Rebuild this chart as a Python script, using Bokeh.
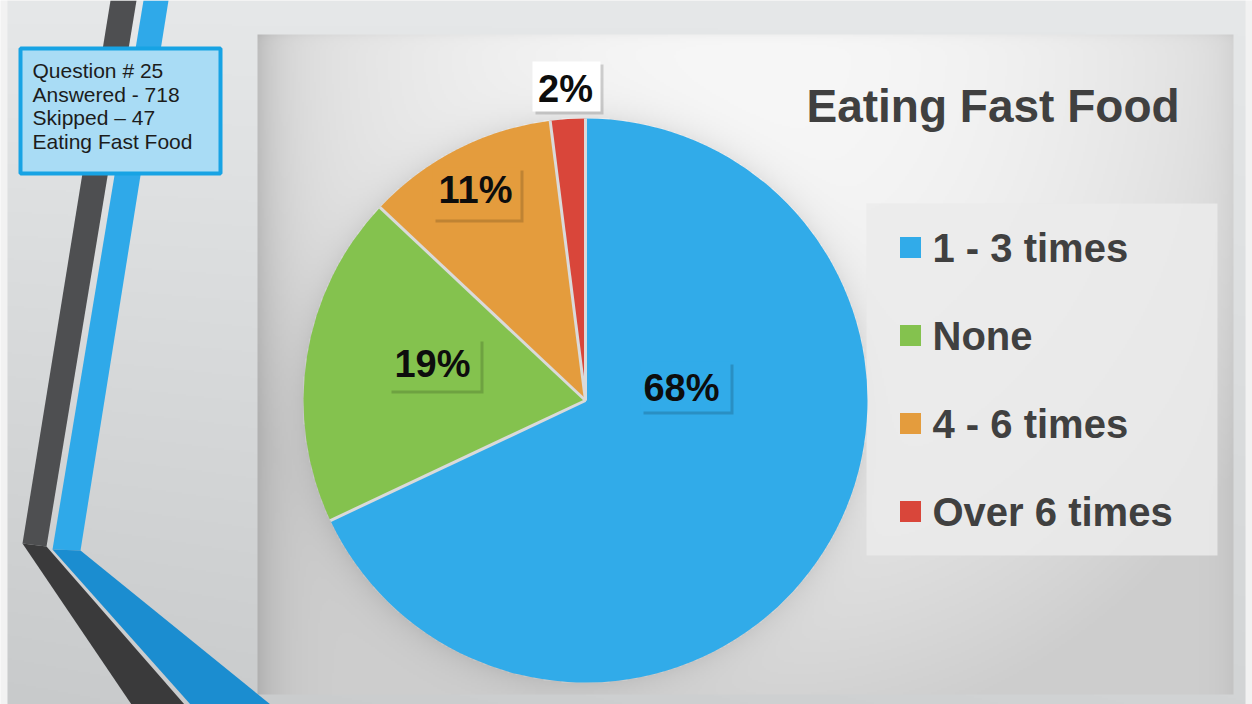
import numpy as np
from bokeh.plotting import figure
from bokeh.models import Range1d
from bokeh.embed import file_html
from bokeh.resources import INLINE
from bokeh.core.properties import value

# ---------------- data ----------------
categories = ["1 - 3 times", "None", "4 - 6 times", "Over 6  times"]
percents = [68, 19, 11, 2]
colors = ["#31abe9", "#84c24e", "#e49c3d", "#d9463a"]
label_texts = [f"{v}%" for v in percents]
title_text = "Eating Fast Food"
info_lines = ["Question # 25", "Answered - 718", "Skipped \u2013 47", "Eating Fast Food"]

# ---------------- layout (image pixel coords, y down) ----------------
W, H = 1252, 704


def Y(v):
    return H - np.asarray(v, dtype=float)


SLIDE = (7, 1245, 0, 704)                    # slide l, r, t, b
PCX, PCY, PR = 585.0, 400.0, 282.0           # pie centre / radius
CHART = (258, 1233, 35, 693)                 # chart area l, r, t, b
LEG_BOX = (866, 1217, 203, 555)
LEG_Y0, LEG_DY = 247, 88
LEG_SQ_X, LEG_SQ = 910, 21
LEG_TX = 932
# data label boxes: centre x, centre y, w, h ; text centre
LBL_BOX = [(685, 386, 90, 50), (434, 364, 92, 52), (476, 193, 88, 52), (566, 86, 68, 50)]
LBL_X = [681, 432, 475, 565]
LBL_Y = [387, 363, 189, 88]
LBL_FILL = [colors[0], colors[1], colors[2], "#ffffff"]

p = figure(width=W, height=H,
           x_range=Range1d(0, W), y_range=Range1d(0, H),
           output_backend="svg", toolbar_location=None, min_border=0)
p.axis.visible = False
p.grid.visible = False
p.outline_line_color = None
p.background_fill_color = "#f2f2f2"
p.border_fill_color = "#f2f2f2"

# ---------------- background gradient image ----------------
sl, sr, st, sb = SLIDE
S = 2
nx, ny = (sr - sl) // S, (sb - st) // S
xs = sl + (np.arange(nx) + 0.5) * S
iys = sb - (np.arange(ny) + 0.5) * S
X, Yi = np.meshgrid(xs, iys)
t = Yi / 704.0
s = X / 1252.0
c = 231 - 20 * t - 10 * (1 - s) * t
Rc, Gc, Bc = c - 1, c + 1, c + 2
l, r, tp, bt = CHART
inside = (X >= l) & (X <= r) & (Yi >= tp) & (Yi <= bt)
r2 = ((X - 760) / 600.0) ** 2 + ((Yi - 40) / 700.0) ** 2
cc = 247 - 41 * np.minimum(r2, 1)
cc -= 28 * np.exp(-np.clip(X - l, 0, None) / 22.0)
cc -= 10 * np.exp(-np.clip(r - X, 0, None) / 15.0)
cc -= 6 * np.exp(-np.clip(Yi - tp, 0, None) / 4.0)
dd = np.hypot(X - PCX, Yi - PCY) - PR
cc -= np.where(dd > 0, 18 * np.exp(-np.clip(dd, 0, None) / 14.0), 0)
Rc = np.where(inside, cc, Rc)
Gc = np.where(inside, cc, Gc)
Bc = np.where(inside, cc, Bc)
img = np.empty((ny, nx), dtype=np.uint32)
view = img.view(dtype=np.uint8).reshape((ny, nx, 4))
view[..., 0] = np.clip(Rc, 0, 255).astype(np.uint8)
view[..., 1] = np.clip(Gc, 0, 255).astype(np.uint8)
view[..., 2] = np.clip(Bc, 0, 255).astype(np.uint8)
view[..., 3] = 255
p.image_rgba(image=[img], x=sl, y=H - sb, dw=sr - sl, dh=sb - st)

# ---------------- decorative stripes ----------------
stripes_x = [
    [110, 136, 46, 22],
    [143, 168, 80, 52],
    [22, 46, 184, 131],
    [52, 80, 270, 190],
]
stripes_y = [
    [0, 0, 546, 543],
    [0, 0, 550, 549],
    [543, 546, 704, 704],
    [549, 550, 704, 704],
]
p.patches(xs=stripes_x, ys=[list(Y(v)) for v in stripes_y],
          fill_color=["#4e4f51", "#2fa9e9", "#3a3a3b", "#1b8dd0"], line_color=None)

# ---------------- info box ----------------
p.quad(left=20, right=220, top=Y(48), bottom=Y(173),
       fill_color="#a9dcf5", line_color="#17a3e4", line_width=4)
p.text(x=[32] * len(info_lines), y=Y([70 + 23.5 * i for i in range(len(info_lines))]),
       text=info_lines, text_font=value("Liberation Sans"), text_font_size="21px",
       text_color="#1c1c1c", text_baseline="middle", text_align="left")

# ---------------- legend panel ----------------
ll, lr, lt, lb = LEG_BOX
p.quad(left=ll, right=lr, top=Y(lt), bottom=Y(lb), fill_color="#ebebeb",
       fill_alpha=0.85, line_color=None)

# ---------------- pie ----------------
frac = np.cumsum([0] + percents) / float(sum(percents)) * 2 * np.pi
start = np.pi / 2 - frac[:-1]
end = np.pi / 2 - frac[1:]
p.wedge(x=PCX, y=float(Y(PCY)), radius=PR, start_angle=start, end_angle=end,
        direction="clock", fill_color=colors, line_color=None)
bang = np.pi / 2 - frac[:-1]
p.segment(x0=[PCX] * len(bang), y0=[float(Y(PCY))] * len(bang),
          x1=PCX + PR * np.cos(bang), y1=float(Y(PCY)) + PR * np.sin(bang),
          line_color="#dadada", line_width=3)

# ---------------- data labels ----------------
bx = np.array([b[0] for b in LBL_BOX], dtype=float)
by = np.array([b[1] for b in LBL_BOX], dtype=float)
bw = [b[2] for b in LBL_BOX]
bh = [b[3] for b in LBL_BOX]
p.rect(x=bx + 3, y=Y(by + 3), width=bw, height=bh, fill_color="black",
       fill_alpha=0.16, line_color=None)
p.rect(x=bx, y=Y(by), width=bw, height=bh, fill_color=LBL_FILL, line_color=None)
p.text(x=LBL_X, y=Y(LBL_Y), text=label_texts, text_font=value("Liberation Sans"),
       text_font_style="bold", text_font_size="38px", text_color="#0d0d0d",
       text_align="center", text_baseline="middle")

# ---------------- title ----------------
p.text(x=[806], y=Y([105]), text=[title_text], text_font=value("Liberation Sans"),
       text_font_style="bold", text_font_size="46px", text_color="#404040",
       text_align="left", text_baseline="middle")

# ---------------- legend ----------------
ly = np.array([LEG_Y0 + i * LEG_DY for i in range(len(categories))], dtype=float)
p.rect(x=[LEG_SQ_X] * len(categories), y=Y(ly), width=LEG_SQ, height=LEG_SQ,
       fill_color=colors, line_color=None)
p.text(x=[LEG_TX] * len(categories), y=Y(ly), text=categories,
       text_font=value("Liberation Sans"), text_font_style="bold", text_font_size="40px",
       text_color="#404040", text_align="left", text_baseline="middle")

open("out.html", "w").write(file_html(p, INLINE))
